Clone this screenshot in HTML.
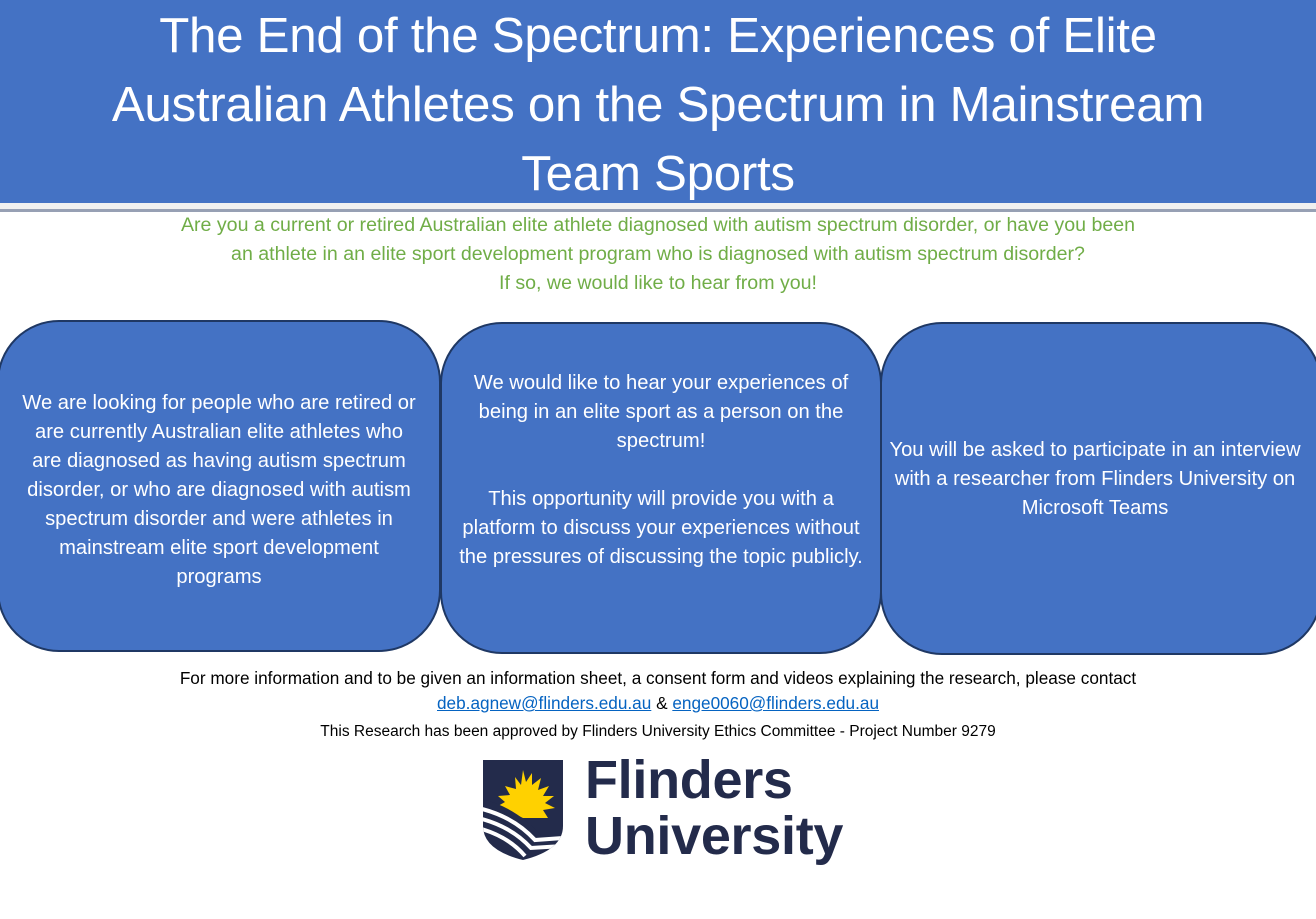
<!DOCTYPE html>
<html><head><meta charset="utf-8"><style>
body{margin:0;width:1316px;height:919px;background:#fff;position:relative;overflow:hidden;font-family:"Liberation Sans",sans-serif}
.hdr{position:absolute;left:0;top:0;width:1316px;height:203px;background:#4472C4}
.hdr div{position:absolute;left:0;width:1316px;text-align:center;color:#fff;font-size:49.3px;letter-spacing:-0.3px;line-height:69px;white-space:nowrap}
.sep1{position:absolute;left:0;top:203px;width:1316px;height:6px;background:#f0f0f0}
.sep2{position:absolute;left:0;top:209px;width:1316px;height:3px;background:#97a0b4}
.g{position:absolute;left:0;width:1316px;text-align:center;color:#70AD47;font-size:19.6px;line-height:29px;white-space:nowrap}
.box{position:absolute;background:#4472C4;border:2px solid #1F3864;border-radius:62px;box-sizing:border-box;color:#fff;font-size:20.2px;line-height:29px;text-align:center;display:flex;align-items:center;justify-content:center;white-space:nowrap}
.f{position:absolute;left:0;width:1316px;text-align:center;color:#000;white-space:nowrap}
a{color:#0563C1;text-decoration:underline}
</style></head><body>
<div class="hdr">
<div style="top:1px">The End of the Spectrum: Experiences of Elite</div>
<div style="top:70px">Australian Athletes on the Spectrum in Mainstream</div>
<div style="top:139px">Team Sports</div>
</div>
<div class="sep1"></div><div class="sep2"></div>
<div class="g" style="top:211px">Are you a current or retired Australian elite athlete diagnosed with autism spectrum disorder, or have you been</div>
<div class="g" style="top:240px">an athlete in an elite sport development program who is diagnosed with autism spectrum disorder?</div>
<div class="g" style="top:269px">If so, we would like to hear from you!</div>
<div class="box" style="left:-3px;top:320px;width:444px;height:332px;padding:8px 0 0 0">We are looking for people who are retired or<br>are currently Australian elite athletes who<br>are diagnosed as having autism spectrum<br>disorder, or who are diagnosed with autism<br>spectrum disorder and were athletes in<br>mainstream elite sport development<br>programs</div>
<div class="box" style="left:440px;top:322px;width:442px;height:332px;padding:0 0 36px">We would like to hear your experiences of<br>being in an elite sport as a person on the<br>spectrum!<br><br>This opportunity will provide you with a<br>platform to discuss your experiences without<br>the pressures of discussing the topic publicly.</div>
<div class="box" style="left:880px;top:322px;width:442px;height:333px;padding:0 12px 18px 0">You will be asked to participate in an interview<br>with a researcher from Flinders University on<br>Microsoft Teams</div>
<div class="f" style="top:668px;font-size:17.2px;line-height:20px">For more information and to be given an information sheet, a consent form and videos explaining the research, please contact</div>
<div class="f" style="top:693px;font-size:17.2px;line-height:20px"><a>deb.agnew@flinders.edu.au</a> &amp; <a>enge0060@flinders.edu.au</a></div>
<div class="f" style="top:723px;font-size:15.5px;line-height:18px">This Research has been approved by Flinders University Ethics Committee - Project Number 9279</div>
<svg style="position:absolute;left:483px;top:760px" width="82" height="102" viewBox="0 0 82 102">
<defs><clipPath id="c"><path d="M0 0H80V66Q80 90 40 100Q0 90 0 66Z"/></clipPath></defs>
<path d="M0 0H80V66Q80 90 40 100Q0 90 0 66Z" fill="#232B4B"/>
<g clip-path="url(#c)">
<polygon fill="#FFD100" points="40,10 43,22 49,13 49,25 58,18 55,30 66,26 60,36 71,36 62,43 72,48 60,50 65,58 40,58 15,46 22,42 15,36 27,35 22,26 33,29 32,17 38,25" />
<path d="M-5 42Q30 50 55 78" stroke="#232B4B" stroke-width="8" fill="none"/>
<path d="M-5 48Q30 56 52 80L80 78" stroke="#fff" stroke-width="4" fill="none"/>
<path d="M-5 58Q28 66 48 88L80 86" stroke="#fff" stroke-width="4" fill="none"/>
<path d="M-5 68Q25 76 42 96" stroke="#fff" stroke-width="4" fill="none"/>
</g></svg>
<div style="position:absolute;left:585px;top:752px;font-size:54px;line-height:56px;color:#232B4B;font-weight:bold;letter-spacing:-0.3px">Flinders<br>University</div>
</body></html>
